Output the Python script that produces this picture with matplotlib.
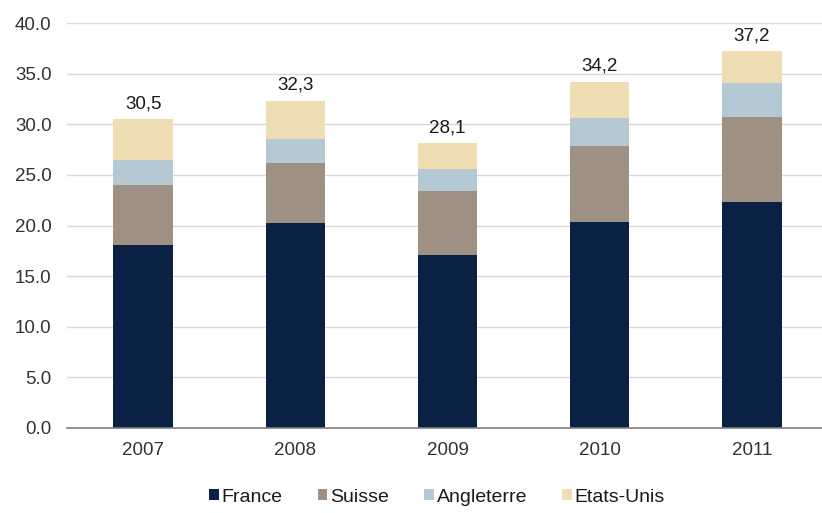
import matplotlib.pyplot as plt
import numpy as np

plt.rcParams['font.family'] = ['Liberation Sans', 'DejaVu Sans']

years = ['2007', '2008', '2009', '2010', '2011']
france = [18.1, 20.2, 17.1, 20.3, 22.3]
suisse = [5.9, 6.0, 6.3, 7.6, 8.4]
angleterre = [2.5, 2.3, 2.2, 2.7, 3.4]
etats_unis = [4.0, 3.8, 2.5, 3.6, 3.1]
totals = ['30,5', '32,3', '28,1', '34,2', '37,2']

series = [
    ('France', france, '#0b2045'),
    ('Suisse', suisse, '#9e9083'),
    ('Angleterre', angleterre, '#b5c9d4'),
    ('Etats-Unis', etats_unis, '#efdeb3'),
]

fig = plt.figure(figsize=(8.22, 5.13), dpi=100)
ax = fig.add_axes([67 / 822, 1 - 428 / 513, 1 - 67 / 822, (428 - 23) / 513])

x = np.arange(len(years))
bottom = np.zeros(len(years))
handles = []
for name, vals, color in series:
    b = ax.bar(x, vals, width=0.39, bottom=bottom, color=color, label=name, zorder=2)
    handles.append(b)
    bottom += np.array(vals)

for xi, top, lab in zip(x, bottom, totals):
    ax.text(xi, top + 0.7, lab, ha='center', va='bottom', fontsize=13.5, color='#1a1a1a')

ax.set_ylim(0, 40)
ax.set_xlim(-0.5, 4.46)
ax.set_yticks(np.arange(0, 41, 5))
ax.set_yticklabels([f'{v:.1f}' for v in np.arange(0, 41, 5)])
ax.set_xticks(x)
ax.set_xticklabels(years)
ax.tick_params(axis='y', length=0, pad=11, labelsize=13.5, labelcolor='#333333')
ax.tick_params(axis='x', length=0, pad=10, labelsize=13.5, labelcolor='#333333')
ax.grid(axis='y', color='#d9d9d9', linewidth=1, zorder=0)
for side in ['top', 'right', 'left']:
    ax.spines[side].set_visible(False)
ax.spines['bottom'].set_color('#7f7f7f')
ax.spines['bottom'].set_linewidth(1.2)
ax.spines['bottom'].set_zorder(3)

fig.legend(handles=handles, loc='center', bbox_to_anchor=(437 / 822, 1 - 497 / 513),
           ncol=4, frameon=False, fontsize=14, handlelength=0.5, handleheight=0.5,
           handletextpad=0.15, columnspacing=1.8, labelcolor='#1a1a1a')

fig.savefig('out.png', dpi=100)
